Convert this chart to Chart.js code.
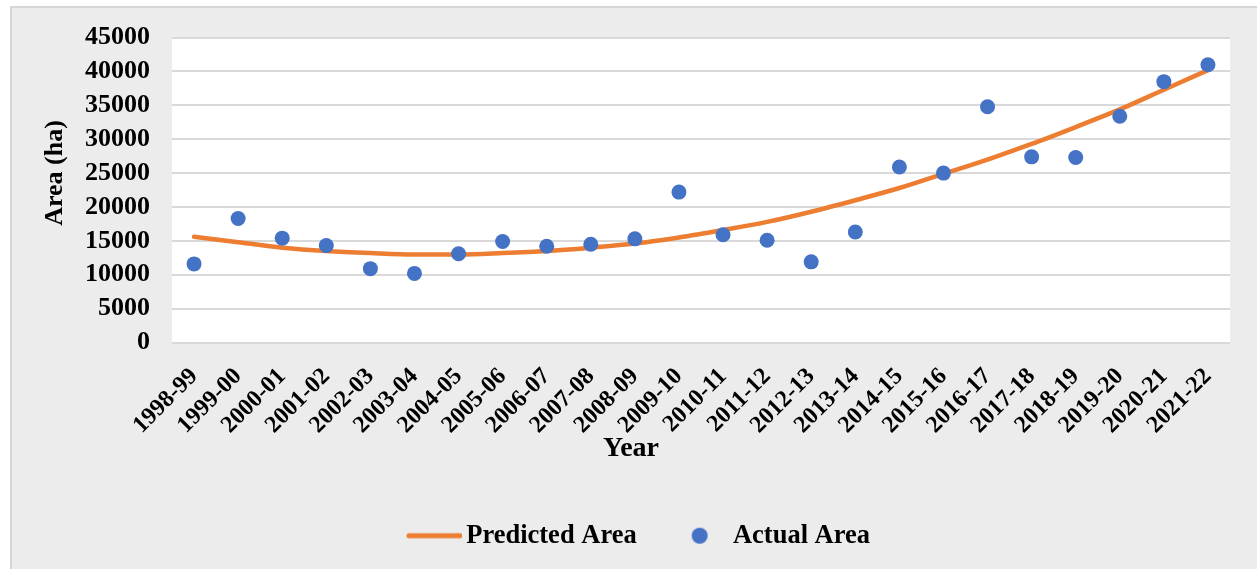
<!DOCTYPE html>
<html>
<head>
<meta charset="utf-8">
<script src="https://cdn.jsdelivr.net/npm/chart.js@4/dist/chart.umd.min.js"></script>
<style>
  html, body { margin: 0; padding: 0; background: #fff; }
  #wrap { width: 1257px; height: 569px; }
</style>
</head>
<body>
<div id="wrap"><canvas id="areaChart" width="1257" height="569"></canvas></div>
<script>
const years = ['1998-99', '1999-00', '2000-01', '2001-02', '2002-03', '2003-04', '2004-05', '2005-06',
  '2006-07', '2007-08', '2008-09', '2009-10', '2010-11', '2011-12', '2012-13', '2013-14',
  '2014-15', '2015-16', '2016-17', '2017-18', '2018-19', '2019-20', '2020-21', '2021-22'];

const actualArea = [11600, 18300, 15400, 14300, 10900, 10200, 13100, 14900,
  14200, 14500, 15300, 22200, 15900, 15100, 11900, 16300,
  25900, 25000, 34800, 27400, 27300, 33400, 38500, 41000];

const predictedArea = [15600, 14800, 14000, 13500, 13200, 13000, 13000, 13200,
  13500, 14000, 14600, 15500, 16600, 17800, 19300, 21000,
  22800, 24900, 27000, 29300, 31800, 34400, 37300, 40200];

const yMax = 45000;
const yStep = 5000;

const orange = '#ED7D31';
const blue = '#4472C4';
const serif = '"Liberation Serif", "Times New Roman", serif';

// little canvases used as legend markers
function lineMarker(){
  const c = document.createElement('canvas');
  c.width = 73; c.height = 8;
  const g = c.getContext('2d');
  g.strokeStyle = orange; g.lineWidth = 5; g.lineCap = 'round';
  g.beginPath(); g.moveTo(20, 4); g.lineTo(71, 4); g.stroke();
  return c;
}
function dotMarker(){
  const c = document.createElement('canvas');
  c.width = 73; c.height = 18;
  const g = c.getContext('2d');
  g.fillStyle = blue;
  g.beginPath(); g.arc(44, 9, 8, 0, Math.PI * 2); g.fill();
  return c;
}
const markers = [dotMarker(), lineMarker()];

// gray frame, white plot area, axis titles
const backdrop = {
  id: 'backdrop',
  beforeDraw(chart){
    const ctx = chart.ctx, a = chart.chartArea;
    ctx.save();
    ctx.fillStyle = '#fff';
    ctx.fillRect(0, 0, chart.width, chart.height);
    ctx.fillStyle = '#ECECEC';
    ctx.fillRect(10, 6, chart.width - 10, chart.height - 6);
    ctx.strokeStyle = '#D6D6D6';
    ctx.lineWidth = 2;
    ctx.beginPath();
    ctx.moveTo(11, chart.height); ctx.lineTo(11, 7); ctx.lineTo(chart.width, 7);
    ctx.stroke();
    ctx.fillStyle = '#fff';
    ctx.fillRect(a.left, a.top, a.right - a.left, a.bottom - a.top);
    ctx.restore();
  },
  afterDraw(chart){
    const ctx = chart.ctx;
    ctx.save();
    ctx.fillStyle = '#000';
    ctx.textAlign = 'center';
    ctx.textBaseline = 'middle';
    ctx.font = 'bold 28px ' + serif;
    ctx.fillText('Year', 631, 449);
    ctx.font = 'bold 26px ' + serif;
    ctx.translate(55, 173);
    ctx.rotate(-Math.PI / 2);
    ctx.fillText('Area (ha)', 0, 0);
    ctx.restore();
  }
};

const data = {
  labels: years,
  datasets: [{
    label: 'Actual Area',
    data: actualArea,
    showLine: false,
    pointRadius: 7.5,
    pointHoverRadius: 7.5,
    pointBackgroundColor: blue,
    pointBorderWidth: 0,
    borderColor: blue,
    backgroundColor: blue
  }, {
    label: 'Predicted Area',
    data: predictedArea,
    borderColor: orange,
    backgroundColor: orange,
    borderWidth: 4.5,
    borderCapStyle: 'round',
    pointRadius: 0,
    cubicInterpolationMode: 'monotone'
  }]
};

const config = {
  type: 'line',
  data,
  options: {
    responsive: false,
    animation: false,
    layout: { padding: { left: 38, right: 27, top: 36, bottom: 10 } },
    plugins: {
      tooltip: { enabled: false },
      legend: {
        position: 'bottom',
        labels: {
          usePointStyle: true,
          pointStyleWidth: 55,
          padding: 28,
          color: '#000',
          font: { family: serif, size: 26.5, weight: 'bold' },
          generateLabels(chart){
            return chart.data.datasets.map((ds, i) => ({
              text: ds.label,
              datasetIndex: i,
              pointStyle: markers[i],
              fillStyle: ds.backgroundColor,
              strokeStyle: ds.borderColor,
              lineWidth: 0,
              hidden: false
            }));
          },
          sort: (a, b) => b.datasetIndex - a.datasetIndex
        }
      }
    },
    scales: {
      x: {
        offset: true,
        grid: { display: false },
        border: { display: false },
        ticks: {
          color: '#000',
          font: { family: serif, size: 24, weight: 'bold' },
          minRotation: 45,
          maxRotation: 45,
          autoSkip: false,
          padding: 12
        },
        afterFit(scale){ scale.height = 152; }
      },
      y: {
        min: 0,
        max: yMax,
        grid: { color: '#D9D9D9', lineWidth: 2, drawTicks: false },
        border: { display: false },
        ticks: {
          stepSize: yStep,
          autoSkip: false,
          color: '#000',
          font: { family: serif, size: 26, weight: 'bold' },
          padding: 22,
          callback: v => String(v)
        },
        afterFit(scale){ scale.width = 134; }
      }
    }
  },
  plugins: [backdrop]
};

const areaChart = new Chart(document.getElementById('areaChart'), config);
</script>
</body>
</html>
